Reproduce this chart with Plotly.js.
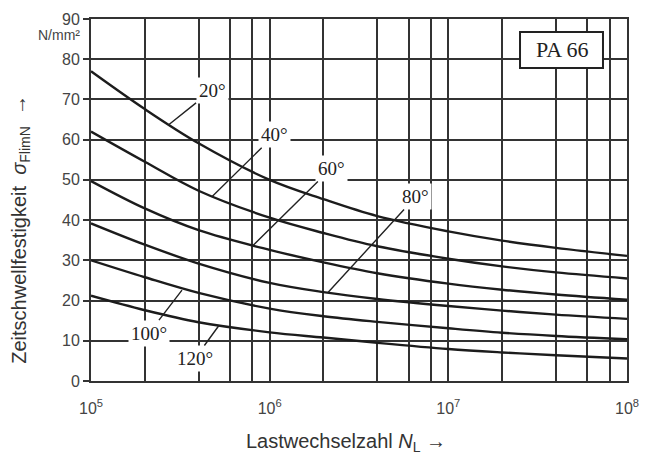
<!DOCTYPE html>
<html>
<head>
<meta charset="utf-8">
<script src="https://cdn.plot.ly/plotly-3.0.1.min.js"></script>
<style>html,body{margin:0;padding:0;background:#fff;}#chart{width:647px;height:457px;}</style>
</head>
<body>
<div id="chart"></div>
<script>
// Load cycles N_L
const cycles = [1e5, 2e5, 4e5, 1e6, 2e6, 4e6, 1e7, 2e7, 4e7, 1e8];
// Fatigue strength sigma_FlimN [N/mm²] per temperature
const temps = ['20°', '40°', '60°', '80°', '100°', '120°'];
const s20  = [77.0, 67.6, 59.1, 50.0, 45.2, 41.0, 37.2, 34.9, 33.1, 31.1];
const s40  = [62.0, 54.5, 47.3, 40.6, 36.8, 33.5, 30.4, 28.5, 27.0, 25.5];
const s60  = [49.7, 42.9, 37.5, 32.6, 29.5, 26.8, 24.2, 22.7, 21.5, 20.2];
const s80  = [39.2, 33.9, 29.2, 24.4, 22.1, 20.4, 18.65, 17.5, 16.5, 15.45];
const s100 = [30.0, 25.8, 21.9, 18.0, 16.1, 14.7, 13.1, 12.0, 11.2, 10.4];
const s120 = [21.2, 17.6, 14.6, 12.1, 10.8, 9.5, 7.95, 7.1, 6.4, 5.6];
const series = [s20, s40, s60, s80, s100, s120];
// label anchor points on curves (N, sigma)
const labelN = [2.7e5, 4.75e5, 8.07e5, 2.12e6, 3.23e5, 5.2e5];
const labelS = [63.6, 45.8, 33.7, 22.0, 22.6, 13.8];

// x axis ticks and grid
const xTicks = [1e5, 1e6, 1e7, 1e8];
const xTickText = ['10<sup>5</sup>', '10<sup>6</sup>', '10<sup>7</sup>', '10<sup>8</sup>'];
const xMinorGrid = [2e5, 4e5, 6e5, 8e5, 2e6, 4e6, 6e6, 8e6, 2e7, 4e7, 6e7, 8e7];
const yTicks = [0, 10, 20, 30, 40, 50, 60, 70, 80, 90];

const curveColor = '#1c1c1c';
const gridColor = '#333333';

const traces = series.map((s, i) => ({
  x: cycles, y: s, type: 'scatter', mode: 'lines', name: temps[i],
  line: {color: curveColor, width: 2.4, shape: 'spline', smoothing: 1},
  hoverinfo: 'skip', showlegend: false
}));

const offsets = [[44, -35], [63, -62], [78, -77], [88, -96], [-33, 43], [-24, 33]];
const annotations = temps.map((t, i) => ({
  x: Math.log10(labelN[i]), y: labelS[i], xref: 'x', yref: 'y',
  text: t, showarrow: true, arrowhead: 0, arrowwidth: 1.4, arrowcolor: '#222',
  ax: offsets[i][0], ay: offsets[i][1], axref: 'pixel', ayref: 'pixel',
  font: {family: 'Liberation Serif, Times New Roman, serif', size: 19, color: '#222'},
  bgcolor: '#ffffff', borderpad: 2, standoff: 0, startstandoff: 0
}));

annotations.push({
  xref: 'paper', yref: 'paper', x: -0.016, y: 0.955, xanchor: 'right', yanchor: 'middle',
  text: 'N/mm²', showarrow: false,
  font: {family: 'Liberation Sans, Arial, sans-serif', size: 14, color: '#444'}
});
annotations.push({
  xref: 'paper', yref: 'paper', x: 0.8778, y: 0.9144, xanchor: 'center', yanchor: 'middle',
  text: 'PA 66', showarrow: false,
  font: {family: 'Liberation Serif, Times New Roman, serif', size: 22, color: '#222'}
});
annotations.push({
  xref: 'paper', yref: 'paper', x: 0.476, y: -0.171, xanchor: 'center', yanchor: 'middle',
  text: 'Lastwechselzahl <i>N</i><sub>L</sub> →', showarrow: false,
  font: {family: 'Liberation Sans, Arial, sans-serif', size: 20, color: '#333'}
});
annotations.push({
  xref: 'paper', yref: 'paper', x: -0.131, y: 0.42, xanchor: 'center', yanchor: 'middle',
  text: 'Zeitschwellfestigkeit  <i>σ</i><sub>FlimN</sub>  →', showarrow: false, textangle: -90,
  font: {family: 'Liberation Sans, Arial, sans-serif', size: 20, color: '#333'}
});

const layout = {
  width: 647, height: 457,
  margin: {l: 91, r: 20, t: 19, b: 76},
  paper_bgcolor: '#ffffff', plot_bgcolor: '#ffffff',
  xaxis: {
    type: 'log', range: [5, 8], tickmode: 'array', tickvals: xTicks, ticktext: xTickText,
    showgrid: true, gridcolor: gridColor, gridwidth: 2,
    minor: {tickmode: 'array', tickvals: xMinorGrid, showgrid: true, gridcolor: gridColor, gridwidth: 2, ticks: ''},
    showline: true, linecolor: gridColor, linewidth: 2, mirror: true,
    ticks: '', zeroline: false, ticklabelstandoff: 12,
    tickfont: {family: 'Liberation Sans, Arial, sans-serif', size: 16, color: '#444'}
  },
  yaxis: {
    range: [0, 90], tickmode: 'array', tickvals: yTicks,
    showgrid: true, gridcolor: gridColor, gridwidth: 2,
    showline: true, linecolor: gridColor, linewidth: 2, mirror: true,
    ticks: 'outside', ticklen: 6, tickwidth: 2, tickcolor: gridColor, zeroline: false,
    tickfont: {family: 'Liberation Sans, Arial, sans-serif', size: 16, color: '#444'}
  },
  shapes: [{
    type: 'rect', xref: 'paper', yref: 'paper', x0: 0.8004, x1: 0.9552, y0: 0.8646, y1: 0.9641,
    line: {color: '#222', width: 2}, fillcolor: '#ffffff', layer: 'above'
  }],
  annotations: annotations
};

Plotly.newPlot('chart', traces, layout, {displayModeBar: false, staticPlot: true});
</script>
</body>
</html>
